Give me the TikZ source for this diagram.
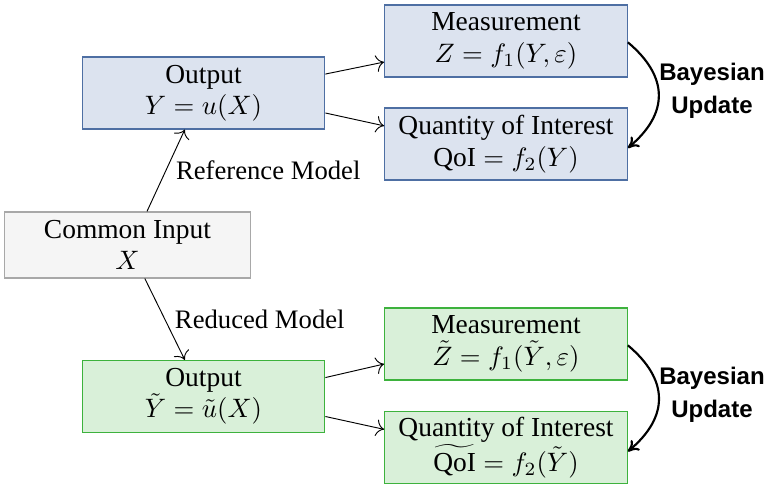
\documentclass[tikz,border=0pt]{standalone}
\usepackage{fontspec}
\setmainfont{Liberation Serif}
\newfontfamily\updfont{Liberation Sans}
\usetikzlibrary{arrows.meta}
\definecolor{refline}{HTML}{4E6FA3}
\definecolor{reffill}{HTML}{DCE3EF}
\definecolor{redline}{HTML}{3DB23D}
\definecolor{redfill}{HTML}{D9F0D9}
\definecolor{inpline}{HTML}{A8A8A8}
\definecolor{inpfill}{HTML}{F5F5F5}
\begin{document}
\begin{tikzpicture}[
			x=0.375pt,y=-0.375pt,
			box/.style={draw,align=center,inner sep=0pt,minimum width=91pt,minimum height=27pt,
				font=\fontsize{10.3}{11.8}\selectfont},
			refbox/.style={box,draw=refline,fill=reffill},
			redbox/.style={box,draw=redline,fill=redfill},
			inpbox/.style={box,draw=inpline,fill=inpfill,minimum width=92pt,minimum height=24.75pt},
			flow/.style={->,>={To[length=3pt]},line width=0.35pt},
			update/.style={->,>={To[length=4pt,width=5pt]},line width=0.8pt,out=-40,in=40,looseness=1.3},
			upd/.style={font=\updfont\bfseries\fontsize{9}{12.4}\selectfont,align=center}
		]
		\useasboundingbox (0,0) rectangle (770,490);
		\node[inpbox] (inp) at (127.5,245) {Common Input\\$X$};
		\node[refbox] (outref) at (203.5,93) {Output\\$Y = u(X)$};
		\node[refbox] (measref) at (506,41) {Measurement\\$Z = f_1(Y,\varepsilon)$};
		\node[refbox] (qoiref) at (506,144) {Quantity of Interest\\$\mathrm{QoI} = f_2(Y)$};
		\node[redbox] (outred) at (203.5,396.5) {Output\\$\tilde{Y} = \tilde{u}(X)$};
		\node[redbox] (measred) at (506,344) {Measurement\\$\tilde{Z} = f_1(\tilde{Y},\varepsilon)$};
		\node[redbox] (qoired) at (506,447.5) {Quantity of Interest\\$\widetilde{\mathrm{QoI}} = f_2(\tilde{Y})$};
		\draw[flow] ([xshift=7.3pt]inp.north) -- ([xshift=-7pt]outref.south)
			node[pos=0.5,right=0.3pt] (refmodel) {Reference Model};
		\draw[flow] ([xshift=6.5pt]inp.south) -- ([xshift=-7pt]outred.north)
			node[pos=0.5,right=0.3pt] (redmodel) {Reduced Model};
		\draw[flow] ([yshift=7.1pt]outref.east) -- ([yshift=-7.9pt]measref.west);
		\draw[flow] ([yshift=-7.5pt]outref.east) -- ([yshift=6.8pt]qoiref.west);
		\draw[flow] ([yshift=7.1pt]outred.east) -- ([yshift=-7.5pt]measred.west);
		\draw[flow] ([yshift=-7.5pt]outred.east) -- ([yshift=6.8pt]qoired.west);
		\draw[update] ([yshift=-0.5pt]measref.east) to ([yshift=-1.5pt]qoiref.east);
		\draw[update] ([yshift=-0.5pt]measred.east) to ([yshift=-1.5pt]qoired.east);
		\node[upd] (bayesref) at (712,91) {Bayesian\\Update};
		\node[upd] (bayesred) at (712,395) {Bayesian\\Update};
	\end{tikzpicture}
\end{document}
